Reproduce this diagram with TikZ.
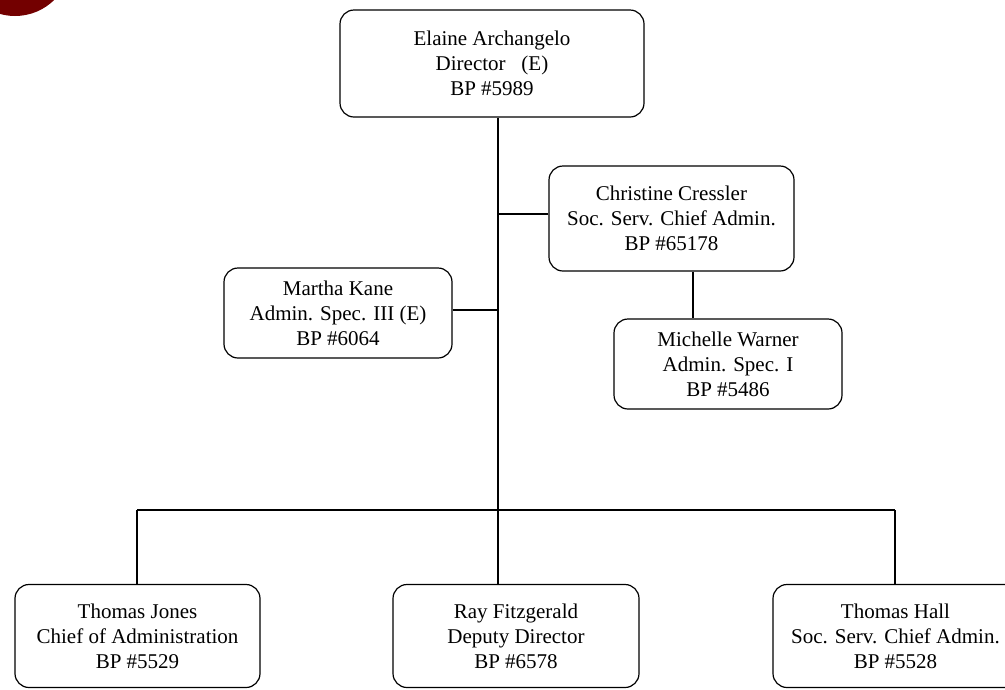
\documentclass[tikz,border=0pt]{standalone}
\usepackage{fontspec}
\setmainfont{Liberation Serif}
\begin{document}
\begin{tikzpicture}[x=1pt,y=-1pt,
  box/.style={draw=black, line width=1.2pt, rounded corners=14pt, align=center, font=\fontsize{21}{25}\selectfont, inner sep=0pt},
  link/.style={draw=black, line width=1.2pt}]
\useasboundingbox (0,0) rectangle (1005,689);
\begin{scope}
\clip (0,0) rectangle (1005,689);
\fill[red!45!black] (15,-40) circle[radius=56];
\end{scope}
% boxes
\node[box, minimum width=304pt, minimum height=107pt] (elaine) at (492,63.5) {Elaine Archangelo\\Director~~~(E)\\BP \#5989};
\node[box, minimum width=245pt, minimum height=105pt] (christine) at (671.5,218.5) {Christine Cressler\\Soc. Serv. Chief Admin.\\BP \#65178};
\node[box, minimum width=228pt, minimum height=90pt] (martha) at (338,313) {Martha Kane\\Admin. Spec. III~(E)\\BP \#6064};
\node[box, minimum width=228pt, minimum height=90pt] (michelle) at (728,364) {Michelle Warner\\Admin. Spec. I\\BP \#5486};
\node[box, minimum width=245pt, minimum height=103pt] (jones) at (137.5,636) {Thomas Jones\\Chief of Administration\\BP \#5529};
\node[box, minimum width=246pt, minimum height=103pt] (ray) at (516,636) {Ray Fitzgerald\\Deputy Director\\BP \#6578};
\node[box, minimum width=245pt, minimum height=103pt] (hall) at (895.5,636) {Thomas Hall\\Soc. Serv. Chief Admin.\\BP \#5528};
% connectors
\coordinate (trunkbot) at (498,584);
\coordinate (busL) at (137,510);
\coordinate (busR) at (895,510);
\draw[link] (elaine.south -| trunkbot) -- (trunkbot);
\draw[link] (christine.west |- 0,214) -- (498,214);
\draw[link] (martha.east |- 0,310) -- (498,310);
\draw[link] (christine.south -| 693,0) -- (michelle.north -| 693,0);
\draw[link] (busL) -- (busR);
\draw[link] (busL) -- (jones.north -| busL);
\draw[link] (busR) -- (hall.north -| busR);
\end{tikzpicture}
\end{document}
